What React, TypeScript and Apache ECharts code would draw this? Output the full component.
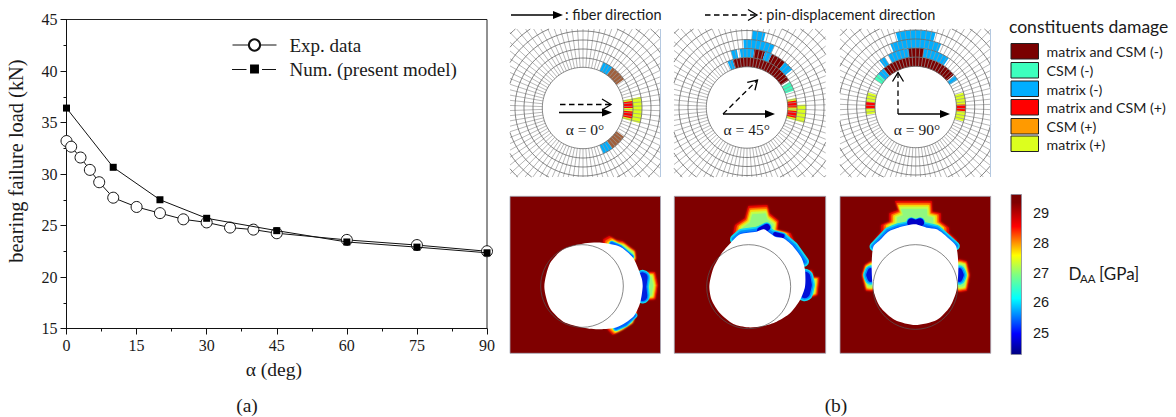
import React, { useEffect, useRef } from "react";
import * as echarts from "echarts";

const SERIF = '"Liberation Serif", serif';
const SANS = 'Lato, sans-serif';

// ---------- panel (a) data ----------
const expAngles = [0, 1, 3, 5, 7, 10, 15, 20, 25, 30, 35, 40, 45, 60, 75, 90];
const expLoads = [33.2, 32.65, 31.6, 30.4, 29.2, 27.7, 26.8, 26.2, 25.6, 25.3, 24.8, 24.6, 24.25, 23.6, 23.1, 22.5];
const numAngles = [0, 10, 20, 30, 45, 60, 75, 90];
const numLoads = [36.4, 30.65, 27.5, 25.7, 24.5, 23.4, 22.9, 22.35];

// ---------- panel (b) damage legend ----------
const damageNames = ["matrix and CSM (-)", "CSM (-)", "matrix (-)", "matrix and CSM (+)", "CSM (+)", "matrix (+)"];
const damageColors = ["#7a0000", "#3dffbe", "#00aeff", "#ff0000", "#ff9a00", "#dcff1e"];
const BROWN = "#a0603c";
const colorbarTicks = ["29", "28", "27", "26", "25"];

// ---------- damage cells: [ring, fromDeg, toDeg, colour] ----------
type Cell = [number, number, number, string];
const [DR, AQ, BL, RD, , YL] = damageColors;
const cells0: Cell[] = [
  [0, 54, 66, BL], [0, 35, 54, BROWN], [0, -54, -35, BROWN], [0, -66, -54, BL],
  [0, -15, 11, YL], [1, -15, 11, YL], [0, 0, 8, RD], [0, -12, -4, RD],
];
const cells45: Cell[] = [
  [0, 33, 107, DR], [0, 107, 113, BL], [0, 20, 31, AQ],
  [0, -15, 11, YL], [1, -15, 3, YL], [0, 0, 8, RD], [0, -12, -4, RD],
  [1, 72, 83, DR], [1, 50, 65, DR], [1, 65, 72, BL], [1, 83, 97, BL], [1, 100, 106, BL], [1, 40, 50, BL],
  [2, 66, 93, BL], [3, 76, 86, BL],
];
const cells90: Cell[] = [
  [0, 40, 130, DR], [0, 130, 139, BL], [0, 33, 39, BL], [0, 139, 146, AQ], [1, 122, 128, BL],
  [1, 56, 118, BL], [1, 82, 97, DR], [2, 68, 112, BL], [3, 75, 105, BL],
  [0, -17, 17, YL], [0, -5, 3, RD], [0, 163, 189, YL], [0, 174, 182, RD],
];

// ---------- mesh geometry ----------
const ringRadii = [40.7, 50, 59, 68, 77, 86, 95, 104, 113];
const RADIAL_STEP = 4;
const meshPanels = [
  { box: [510, 29, 660.5, 177], cx: 583, cy: 108, cells: cells0, label: "α = 0°", lx: 585 },
  { box: [674, 29, 825.7, 177], cx: 747, cy: 107.5, cells: cells45, label: "α = 45°", lx: 746.7 },
  { box: [840, 29, 990.7, 177], cx: 915.7, cy: 107, cells: cells90, label: "α = 90°", lx: 917 },
];

// ---------- contour panels (picture coords at 3x, origin below) ----------
type Pt = [number, number];
type Zone = { outer: Pt[]; anchor: Pt };
// edge band: [cyan width, blue width, blue colour, points]
type Band = [number, number, string, Pt[]];
const contourPanels: { ox: number; oy: number; box: number[]; blob: Pt[]; hole: [number, number, number]; zones: Zone[]; bands: Band[] }[] = [
  {
    ox: 500, oy: 190, box: [510, 196.3, 660.5, 353.3],
    hole: [246, 288, 124],
    blob: [[255, 160], [305, 158], [360, 170], [400, 205], [425, 265], [428, 290], [420, 340], [400, 380], [350, 412], [300, 418], [250, 413], [190, 395], [150, 355], [133, 290], [150, 220], [190, 178]],
    zones: [
      { anchor: [385, 205], outer: [[310, 148], [328, 138], [348, 150], [368, 154], [388, 170], [405, 182], [408, 205], [395, 225], [340, 190], [310, 165]] },
      { anchor: [426, 290], outer: [[424, 246], [465, 246], [473, 285], [466, 328], [424, 332]] },
      { anchor: [385, 395], outer: [[322, 418], [338, 434], [365, 420], [398, 398], [412, 362], [400, 368], [380, 385], [330, 405]] },
    ],
    bands: [
      [5, 2.5, "#0060ff", [[335, 160], [362, 172], [395, 200]]],
      [15, 10, "#0020e0", [[428, 262], [424, 290], [427, 318]]],
      [6, 2.5, "#0060ff", [[348, 414], [376, 402], [403, 376]]],
    ],
  },
  {
    ox: 500, oy: 190, box: [674.3, 196.3, 825.7, 353.3],
    hole: [746, 290, 126],
    blob: [[628, 288], [640, 235], [665, 190], [700, 150], [720, 133], [745, 128], [770, 125], [792, 118], [810, 130], [825, 140], [850, 145], [880, 170], [905, 205], [915, 240], [915, 290], [900, 330], [870, 370], [830, 395], [790, 408], [745, 412], [700, 402], [660, 370], [635, 330]],
    zones: [
      { anchor: [785, 130], outer: [[695, 150], [705, 105], [735, 85], [745, 48], [802, 45], [808, 70], [836, 92], [832, 120], [872, 130], [888, 165], [922, 210], [905, 222], [800, 200], [700, 170]] },
      { anchor: [912, 290], outer: [[905, 245], [935, 240], [942, 262], [958, 262], [952, 315], [920, 326], [902, 312]] },
    ],
    bands: [
      [10, 2.5, "#0060ff", [[705, 148], [725, 131], [770, 125], [792, 118], [825, 140], [850, 145], [880, 170], [912, 215]]],
      [10, 7, "#0000d0", [[782, 122], [800, 112]]],
      [7, 4, "#0000d0", [[825, 132], [848, 138]]],
      [17, 11, "#0010d8", [[915, 262], [919, 285], [914, 308]]],
    ],
  },
  {
    ox: 830, oy: 190, box: [840, 196.3, 990.7, 353.3],
    hole: [256, 291, 127],
    blob: [[130, 170], [150, 150], [175, 125], [205, 113], [255, 103], [290, 113], [320, 118], [350, 140], [378, 168], [385, 230], [380, 300], [360, 350], [320, 390], [256, 405], [195, 390], [150, 350], [130, 300], [125, 230]],
    zones: [
      { anchor: [256, 112], outer: [[195, 33], [305, 33], [307, 65], [332, 70], [332, 95], [357, 113], [357, 130], [380, 150], [385, 178], [128, 178], [133, 150], [153, 125], [153, 105], [178, 95], [178, 70], [205, 60]] },
      { anchor: [384, 255], outer: [[385, 208], [410, 214], [419, 255], [410, 302], [385, 306]] },
      { anchor: [126, 255], outer: [[125, 212], [105, 224], [96, 255], [108, 302], [128, 304]] },
    ],
    bands: [
      [9, 2.5, "#0060ff", [[132, 170], [175, 125], [205, 113], [255, 103], [320, 118], [376, 168]]],
      [10, 8, "#0000c8", [[244, 97], [257, 102], [270, 97]]],
      [13, 7, "#0010d8", [[387, 245], [391, 255], [387, 265]]],
      [13, 7, "#0010d8", [[123, 245], [119, 255], [123, 265]]],
    ],
  },
];
const contourLevels: [number, string][] = [
  [1, "#e00000"], [0.92, "#ff5a00"], [0.85, "#ffd000"], [0.78, "#c8ff40"], [0.7, "#90f880"],
];
const colorbarStops: [number, string][] = [
  [0, "#7a0000"], [0.05, "#800000"], [0.2, "#ff0000"], [0.3, "#ff9000"], [0.38, "#ffff00"],
  [0.5, "#80ff80"], [0.65, "#00ffff"], [0.87, "#0000ff"], [1, "#000080"],
];

// ---------- helpers ----------
const txt = (text: string, x: number, y: number, font: string, align = "left", fill = "#1a1a1a", extra: any = {}) => ({
  type: "text", x, y, z: 50, silent: true,
  style: { text, font, fill, align, verticalAlign: "middle", textAlign: align, textVerticalAlign: "middle", ...extra },
});

function clip(x1: number, y1: number, x2: number, y2: number, b: number[]): number[] | null {
  let t0 = 0, t1 = 1;
  const dx = x2 - x1, dy = y2 - y1;
  const tests = [[-dx, x1 - b[0]], [dx, b[2] - x1], [-dy, y1 - b[1]], [dy, b[3] - y1]];
  for (const [p, q] of tests) {
    if (p === 0) { if (q < 0) return null; continue; }
    const r = q / p;
    if (p < 0) { if (r > t1) return null; if (r > t0) t0 = r; }
    else { if (r < t0) return null; if (r < t1) t1 = r; }
  }
  return [x1 + t0 * dx, y1 + t0 * dy, x1 + t1 * dx, y1 + t1 * dy];
}
const seg = (s: number[] | null) => (s ? `M${s[0].toFixed(2)} ${s[1].toFixed(2)}L${s[2].toFixed(2)} ${s[3].toFixed(2)}` : "");
const rad = (d: number) => (d * Math.PI) / 180;

function ringsPath(p: (typeof meshPanels)[number]) {
  let d = "";
  for (const r of ringRadii) {
    for (let a = 0; a < 360; a += 3) {
      d += seg(clip(p.cx + r * Math.cos(rad(a)), p.cy + r * Math.sin(rad(a)), p.cx + r * Math.cos(rad(a + 3)), p.cy + r * Math.sin(rad(a + 3)), p.box));
    }
  }
  return d;
}
function radialsPath(p: (typeof meshPanels)[number]) {
  let d = "";
  const r0 = ringRadii[0], r1 = ringRadii[ringRadii.length - 1];
  for (let a = 2; a < 360; a += RADIAL_STEP) {
    d += seg(clip(p.cx + r0 * Math.cos(rad(a)), p.cy + r0 * Math.sin(rad(a)), p.cx + r1 * Math.cos(rad(a)), p.cy + r1 * Math.sin(rad(a)), p.box));
  }
  return d;
}

function solidArrow(x1: number, y1: number, x2: number, y2: number) {
  const a = Math.atan2(y2 - y1, x2 - x1), L = 10, W = 4;
  const bx = x2 - L * Math.cos(a), by = y2 - L * Math.sin(a);
  return [
    { type: "line", z: 40, silent: true, shape: { x1, y1, x2: bx, y2: by }, style: { stroke: "#000", lineWidth: 1.5 } },
    { type: "polygon", z: 40, silent: true, shape: { points: [[x2, y2], [bx - W * Math.sin(a), by + W * Math.cos(a)], [bx + W * Math.sin(a), by - W * Math.cos(a)]] }, style: { fill: "#000" } },
  ];
}
function dashedArrow(x1: number, y1: number, x2: number, y2: number) {
  const a = Math.atan2(y2 - y1, x2 - x1), L = 9, W = 5.5;
  const bx = x2 - L * Math.cos(a), by = y2 - L * Math.sin(a);
  return [
    { type: "line", z: 40, silent: true, shape: { x1, y1, x2, y2 }, style: { stroke: "#000", lineWidth: 1.3, lineDash: [5.5, 3.5] } },
    { type: "polyline", z: 40, silent: true, shape: { points: [[bx - W * Math.sin(a), by + W * Math.cos(a)], [x2, y2], [bx + W * Math.sin(a), by - W * Math.cos(a)]] }, style: { stroke: "#000", fill: "none", lineWidth: 1.3 } },
  ];
}

function buildGraphics() {
  const g: any[] = [];
  // captions
  g.push(txt("(a)", 247, 405.5, `19.5px ${SERIF}`, "center"));
  g.push(txt("(b)", 836, 405.5, `19.5px ${SERIF}`, "center"));
  // line pieces of the Num. key
  g.push({ type: "line", z: 100, silent: true, shape: { x1: 232, y1: 69.5, x2: 246.5, y2: 69.5 }, style: { stroke: "#111", lineWidth: 1 } });
  g.push({ type: "line", z: 100, silent: true, shape: { x1: 262, y1: 69.5, x2: 276, y2: 69.5 }, style: { stroke: "#111", lineWidth: 1 } });

  // direction key
  g.push(...solidArrow(511, 15, 563, 15));
  g.push(txt(": fiber direction", 565, 14.5, `14.5px ${SANS}`));
  g.push(...dashedArrow(705, 15, 757, 15));
  g.push(txt(": pin-displacement direction", 759, 14.5, `14.5px ${SANS}`));

  // mesh panels
  meshPanels.forEach((p, i) => {
    p.cells.forEach(([ring, from, to, fill]) => {
      g.push({
        type: "sector", z: 10, silent: true,
        shape: { cx: p.cx, cy: p.cy, r0: ringRadii[ring], r: ringRadii[ring + 1], startAngle: -rad(to), endAngle: -rad(from), clockwise: true },
        style: { fill },
      });
    });
    const rn = `meshRings${i}`, sn = `meshRadials${i}`;
    echarts.graphic.registerShape(rn, echarts.graphic.extendPath(ringsPath(p), {}));
    echarts.graphic.registerShape(sn, echarts.graphic.extendPath(radialsPath(p), {}));
    g.push({ type: sn, z: 11, silent: true, style: { fill: "none", stroke: "#9a9a9a", lineWidth: 0.7 } });
    g.push({ type: rn, z: 12, silent: true, style: { fill: "none", stroke: "#666", lineWidth: 0.8 } });
    g.push(txt(p.label, p.lx, 129, `15.5px ${SERIF}`, "center"));
  });
  g.push({ type: "line", z: 13, silent: true, shape: { x1: 660.5, y1: 29, x2: 660.5, y2: 177 }, style: { stroke: "#b4c8e0", lineWidth: 1 } });
  g.push({ type: "line", z: 13, silent: true, shape: { x1: 990.5, y1: 29, x2: 990.5, y2: 177 }, style: { stroke: "#b4c8e0", lineWidth: 1 } });

  // arrows in the mesh panels
  g.push(...solidArrow(559, 112.5, 612, 112.5), ...dashedArrow(560, 104.5, 611, 104.5));
  g.push(...solidArrow(723, 114, 775, 114), ...dashedArrow(723, 114, 757.5, 80));
  g.push(...solidArrow(898, 114, 950, 114), ...dashedArrow(898, 114, 898, 72.5));

  // damage key
  g.push(txt("constituents damage", 1009, 26, `17.5px ${SANS}`));
  const keyTops = [43.5, 62.5, 81, 99.5, 118.5, 136];
  damageNames.forEach((name, i) => {
    g.push({ type: "rect", z: 20, silent: true, shape: { x: 1011, y: keyTops[i], width: 27.5, height: 15.5 }, style: { fill: damageColors[i], stroke: "#222", lineWidth: 1 } });
    g.push(txt(name, 1046.5, keyTops[i] + 8, `14.2px ${SANS}`));
  });

  // contour panels
  contourPanels.forEach((p) => {
    const mp = ([x, y]: Pt): Pt => [p.ox + x / 3, p.oy + y / 3];
    const [bx0, by0, bx1, by1] = p.box;
    g.push({ type: "rect", z: 10, silent: true, shape: { x: bx0, y: by0, width: bx1 - bx0, height: by1 - by0 }, style: { fill: "#7f0000", stroke: "#a3a9b8", lineWidth: 0.8 } });
    p.zones.forEach((zone) => {
      contourLevels.forEach(([t, fill]) => {
        const pts = zone.outer.map(([x, y]) => mp([zone.anchor[0] + (x - zone.anchor[0]) * t, zone.anchor[1] + (y - zone.anchor[1]) * t]));
        g.push({ type: "polygon", z: 11, silent: true, shape: { points: pts }, style: { fill, shadowBlur: 2, shadowColor: fill } });
      });
    });
    p.bands.forEach(([cyanW, , , pts]) => {
      const points = pts.map(mp);
      g.push({ type: "polyline", z: 11, silent: true, shape: { points }, style: { fill: "none", stroke: "#10d8f0", lineWidth: cyanW, lineCap: "round", lineJoin: "round" } });
    });
    p.bands.forEach(([cyanW, blueW, , pts]) => {
      const points = pts.map(mp);
      g.push({ type: "polyline", z: 11, silent: true, shape: { points }, style: { fill: "none", stroke: "#0090ff", lineWidth: (cyanW + blueW) / 2, lineCap: "round", lineJoin: "round" } });
    });
    p.bands.forEach(([, blueW, blue, pts]) => {
      const points = pts.map(mp);
      g.push({ type: "polyline", z: 11, silent: true, shape: { points }, style: { fill: "none", stroke: blue, lineWidth: blueW, lineCap: "round", lineJoin: "round" } });
    });
    g.push({ type: "polygon", z: 12, silent: true, shape: { points: p.blob.map(mp), smooth: 0.25 }, style: { fill: "#fff" } });
    const [cx, cy] = mp([p.hole[0], p.hole[1]]);
    g.push({ type: "circle", z: 13, silent: true, shape: { cx, cy, r: p.hole[2] / 3 }, style: { fill: "none", stroke: "#555", lineWidth: 0.7 } });
  });

  // colour bar
  g.push({
    type: "rect", z: 20, silent: true,
    shape: { x: 1011, y: 194.5, width: 10.5, height: 160 },
    style: {
      fill: new echarts.graphic.LinearGradient(0, 0, 0, 1, colorbarStops.map(([offset, color]) => ({ offset, color }))),
      stroke: "#8a8a9a", lineWidth: 0.8,
    },
  });
  const tickYs = [212.7, 242.7, 272.7, 301.7, 332.7];
  colorbarTicks.forEach((t, i) => g.push(txt(t, 1033, tickYs[i], `14.5px "Liberation Sans", sans-serif`)));
  g.push(txt("D", 1068.5, 273, `17px ${SANS}`));
  g.push(txt("AA", 1080, 278.5, `11.5px ${SANS}`));
  g.push(txt("[GPa]", 1099, 273, `17px ${SANS}`));
  return g;
}

export default function App() {
  const ref = useRef<HTMLDivElement>(null);
  useEffect(() => {
    document.body.style.margin = "0";
    const chart = echarts.init(ref.current!, undefined, { renderer: "svg" });
    chart.setOption({
      animation: false,
      backgroundColor: "#fff",
      textStyle: { fontFamily: SERIF },
      grid: { left: 66.5, right: 689, top: 19.5, bottom: 88.5, show: true, borderColor: "#222", borderWidth: 1, backgroundColor: "transparent" },
      xAxis: {
        type: "value", min: 0, max: 90, interval: 15,
        name: "α (deg)", nameLocation: "middle", nameGap: 31,
        nameTextStyle: { fontFamily: SERIF, fontSize: 19.5, color: "#1a1a1a", padding: [0, 6, 0, 0] },
        axisLine: { show: true, onZero: false, lineStyle: { color: "#111", width: 1 } },
        axisTick: { show: true, inside: false, length: 6, lineStyle: { color: "#111" } },
        minorTick: { show: true, splitNumber: 2, length: 3, lineStyle: { color: "#111" } },
        splitLine: { show: false },
        axisLabel: { fontFamily: SERIF, fontSize: 16, color: "#1a1a1a", margin: 9, showMinLabel: true, showMaxLabel: true },
      },
      yAxis: {
        type: "value", min: 15, max: 45, interval: 5,
        name: "bearing failure load (kN)", nameLocation: "middle", nameGap: 41,
        nameTextStyle: { fontFamily: SERIF, fontSize: 20.4, color: "#1a1a1a", padding: [0, 0, 0, 26] },
        axisLine: { show: true, onZero: false, lineStyle: { color: "#111", width: 1 } },
        axisTick: { show: true, inside: false, length: 6, lineStyle: { color: "#111" } },
        minorTick: { show: true, splitNumber: 2, length: 3, lineStyle: { color: "#111" } },
        splitLine: { show: false },
        axisLabel: { fontFamily: SERIF, fontSize: 16, color: "#1a1a1a", margin: 9 },
      },
      legend: {
        left: 232, top: 35.5, padding: 0, orient: "vertical", itemWidth: 44, itemHeight: 14, itemGap: 5, selectedMode: false,
        lineStyle: { width: 1 },
        textStyle: { fontFamily: SERIF, fontSize: 19, lineHeight: 14, color: "#1a1a1a", padding: [0, 0, 0, 8] },
        data: [
          { name: "Exp. data" },
          { name: "Num. (present model)", icon: "path://M0,0h0v0z M2,2h7v7h-7z M11,11h0v0z", itemStyle: { color: "#000" } },
        ],
      },
      series: [
        {
          name: "Exp. data", type: "line", clip: false, silent: true, z: 3,
          data: expAngles.map((a, i) => [a, expLoads[i]]),
          symbol: "circle", symbolSize: 11,
          lineStyle: { color: "#111", width: 1 },
          itemStyle: { color: "#fff", borderColor: "#111", borderWidth: 1 },
        },
        {
          name: "Num. (present model)", type: "line", clip: false, silent: true, z: 4,
          data: numAngles.map((a, i) => [a, numLoads[i]]),
          symbol: "rect", symbolSize: 7,
          lineStyle: { color: "#111", width: 1 },
          itemStyle: { color: "#000" },
        },
      ],
      graphic: buildGraphics(),
    });
    return () => chart.dispose();
  }, []);
  return <div ref={ref} style={{ width: 1176, height: 417 }} />;
}
